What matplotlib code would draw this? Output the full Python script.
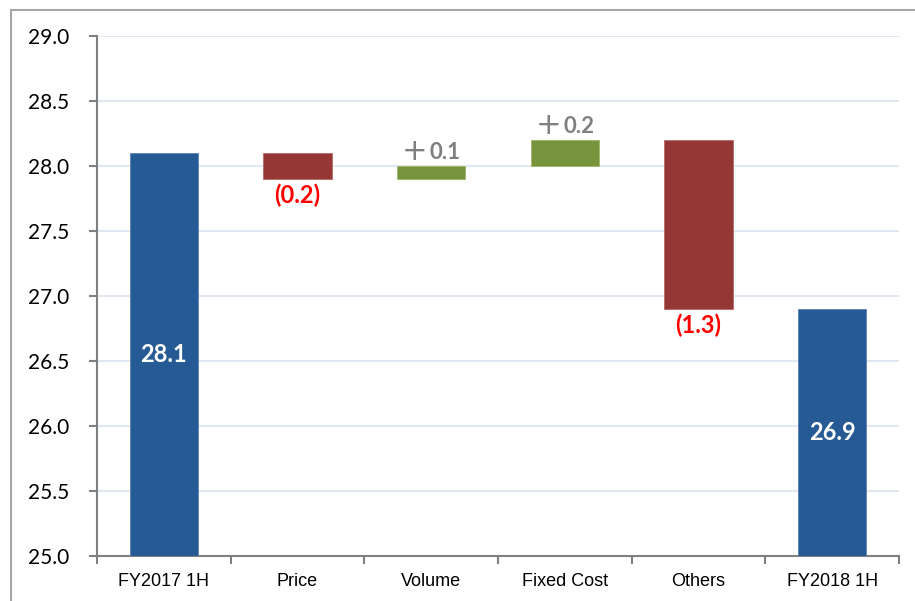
import matplotlib
matplotlib.use("Agg")
import matplotlib.pyplot as plt
from matplotlib.lines import Line2D

categories = ["FY2017 1H", "Price", "Volume", "Fixed Cost", "Others", "FY2018 1H"]
start_value = 28.1
deltas = [-0.2, 0.1, 0.2, -1.3]
end_value = 26.9
y_ticks = [25.0, 25.5, 26.0, 26.5, 27.0, 27.5, 28.0, 28.5, 29.0]

BLUE = "#265A94"
RED = "#953735"
GREEN = "#77933C"
GRID = "#DCE6F2"
SPINE = "#808080"

fig = plt.figure(figsize=(9.15, 6.01), dpi=100)
W, H = 915, 601
ax = fig.add_axes([97 / W, 1 - 556 / H, (899 - 97) / W, (556 - 36) / H])

x = list(range(len(categories)))
bw = 0.51
ymin, ymax = y_ticks[0], y_ticks[-1]

ax.bar(x[0], start_value, width=bw, color=BLUE, edgecolor="#5A82B4", linewidth=0.6, zorder=3)
ax.bar(x[-1], end_value, width=bw, color=BLUE, edgecolor="#5A82B4", linewidth=0.6, zorder=3)

lbl_font = "Lato"
ax.text(x[0], (ymin + start_value) / 2, f"{start_value:.1f}", color="white", fontsize=17,
        fontweight="bold", family=lbl_font, ha="center", va="center", zorder=5)
ax.text(x[-1], (ymin + end_value) / 2, f"{end_value:.1f}", color="white", fontsize=17,
        fontweight="bold", family=lbl_font, ha="center", va="center", zorder=5)

running = start_value
for i, d in enumerate(deltas):
    xi = x[i + 1]
    lo = min(running, running + d)
    color = GREEN if d > 0 else RED
    edge = "#9BB567" if d > 0 else "#B56A68"
    ax.bar(xi, abs(d), bottom=lo, width=bw, color=color, edgecolor=edge, linewidth=0.6, zorder=3)
    if d > 0:
        ax.annotate("+", xy=(xi, lo + abs(d)), xytext=(-12, 0), textcoords="offset points",
                    ha="center", va="bottom", color="#7F7F7F", fontsize=22, fontweight="normal",
                    family="DejaVu Sans", zorder=5)
        ax.annotate(f"{d:.1f}", xy=(xi, lo + abs(d)), xytext=(10, 2), textcoords="offset points",
                    ha="center", va="bottom", color="#7F7F7F", fontsize=16, fontweight="bold",
                    family=lbl_font, zorder=5)
    else:
        ax.annotate(f"({abs(d):.1f})", xy=(xi, lo), xytext=(0, -3), textcoords="offset points",
                    ha="center", va="top", color="#FF0000", fontsize=17, fontweight="bold",
                    family=lbl_font, zorder=5)
    running += d

ax.set_ylim(ymin, ymax)
ax.set_xlim(-0.5, len(categories) - 0.5)
ax.set_yticks(y_ticks)
ax.set_yticklabels([f"{v:.1f}" for v in y_ticks], family=lbl_font, fontsize=15)
ax.set_xticks([i - 0.5 for i in range(len(categories) + 1)])
ax.set_xticklabels([])
ax.set_xticks(x, minor=True)
ax.set_xticklabels(categories, minor=True, family="Liberation Sans", fontsize=13)
ax.tick_params(axis="x", which="minor", length=0, pad=12)
ax.tick_params(axis="x", which="major", length=6, width=1.5, color=SPINE, direction="out")
ax.tick_params(axis="y", length=6, width=1.5, color=SPINE, direction="out", pad=14)

ax.yaxis.grid(True, color=GRID, linewidth=1.3, zorder=0)
ax.set_axisbelow(True)
for s in ["top", "right"]:
    ax.spines[s].set_visible(False)
for s in ["left", "bottom"]:
    ax.spines[s].set_color(SPINE)
    ax.spines[s].set_linewidth(1.5)

fig.add_artist(Line2D([11 / W, 11 / W], [0, 1 - 10 / H], color="#A6A6A6", linewidth=1.5,
                      transform=fig.transFigure))
fig.add_artist(Line2D([11 / W, 1], [1 - 10 / H, 1 - 10 / H], color="#A6A6A6", linewidth=1.5,
                      transform=fig.transFigure))

fig.savefig("out.png", dpi=100, facecolor="white")
